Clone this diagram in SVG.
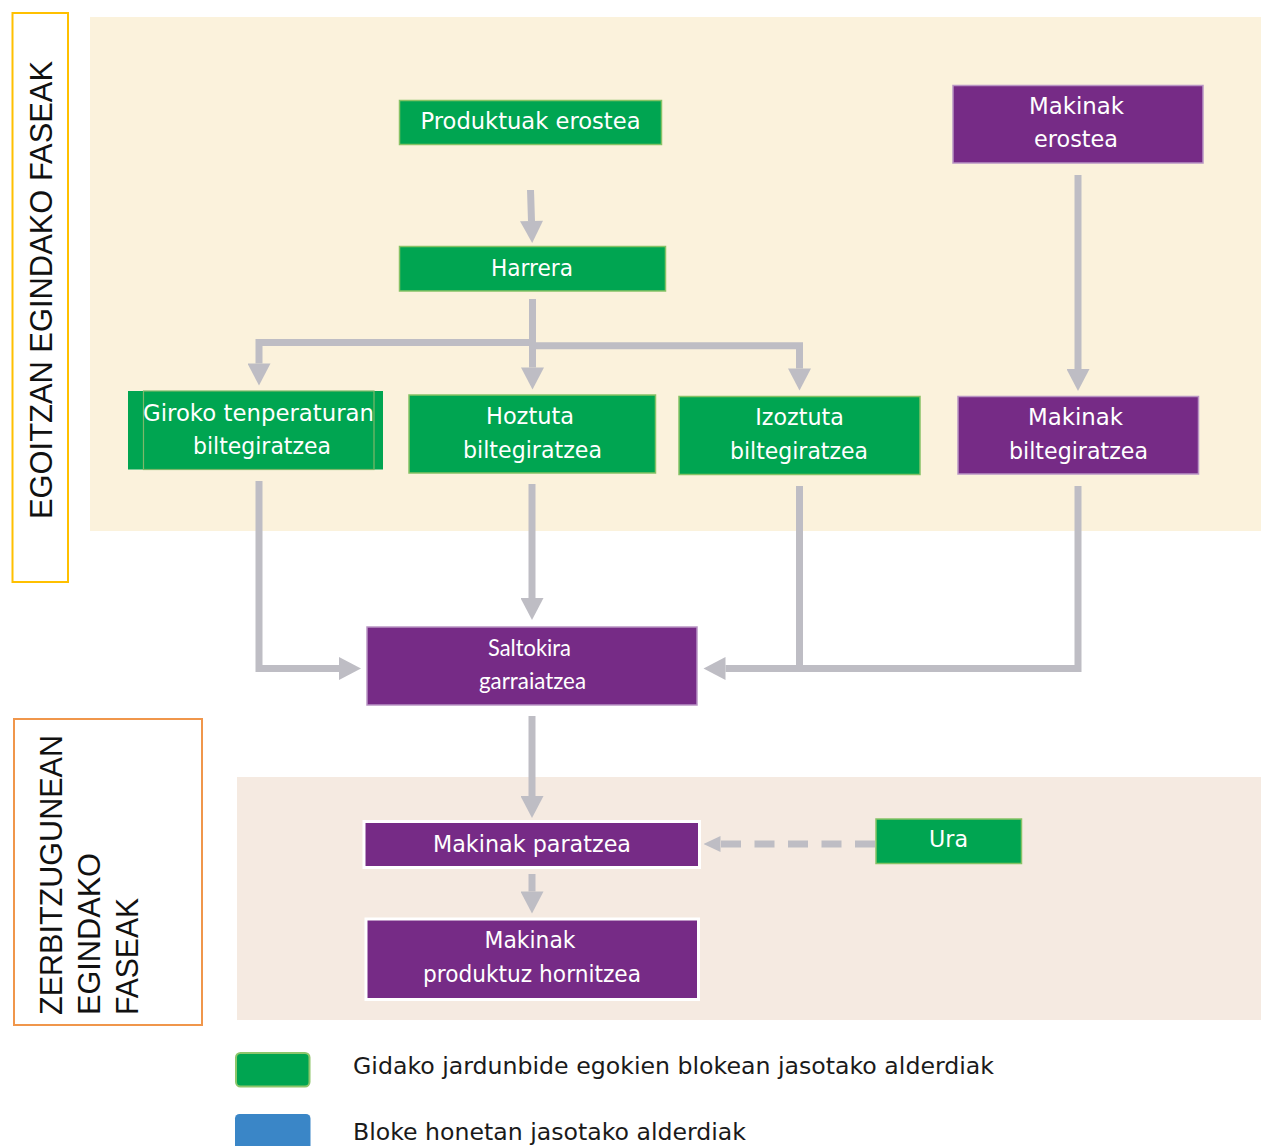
<svg xmlns="http://www.w3.org/2000/svg" width="1261" height="1146" viewBox="0 0 1261 1146">
<style>
.t{font-family:"DejaVu Sans",Verdana,sans-serif;font-size:22.5px;fill:#fff;text-anchor:middle}
.c{font-family:Lato,"Open Sans",sans-serif;font-size:24px;fill:#fff;text-anchor:middle}
.lab{font-family:"Liberation Sans",Arial,sans-serif;fill:#111}
.leg{font-family:"DejaVu Sans",Verdana,sans-serif;font-size:23.4px;fill:#1a1a1a}
.g{fill:#00A551;stroke:#86C266;stroke-width:1.5}
.p{fill:#762B86;stroke:#B995C4;stroke-width:1.5}
.pw{fill:#762B86;stroke:#fff;stroke-width:3}
.ln{fill:none;stroke:#BEBDC4;stroke-width:7;stroke-linejoin:miter}
</style>
<defs>
<marker id="ah" markerUnits="userSpaceOnUse" markerWidth="23" markerHeight="23" viewBox="0 0 22 23" refX="0" refY="11.5" orient="auto"><path d="M0,0 L22,11.5 L0,23 z" fill="#BEBDC4"/></marker>
<marker id="ahs" markerUnits="userSpaceOnUse" markerWidth="17" markerHeight="16" viewBox="0 0 17 16" refX="0" refY="8" orient="auto"><path d="M0,0 L17,8 L0,16 z" fill="#BEBDC4"/></marker>
</defs>
<rect width="1261" height="1146" fill="#fff"/>
<rect x="90" y="17" width="1171" height="514" fill="#FBF2DC"/>
<rect x="237" y="777" width="1024" height="243" fill="#F5EAE1"/>

<g id="label-egoitza">
<rect x="12.5" y="13" width="55.5" height="569" fill="none" stroke="#FFC000" stroke-width="2"/>
<text class="lab" font-size="32" transform="translate(52,519) rotate(-90)" textLength="458" lengthAdjust="spacingAndGlyphs">EGOITZAN EGINDAKO FASEAK</text>
</g>
<g id="label-zerbitzugune">
<rect x="14" y="719" width="188" height="306" fill="none" stroke="#F0964B" stroke-width="2"/>
<text class="lab" font-size="31" transform="translate(61.5,1015) rotate(-90)" textLength="280" lengthAdjust="spacingAndGlyphs">ZERBITZUGUNEAN</text>
<text class="lab" font-size="31" transform="translate(100,1015) rotate(-90)" textLength="162" lengthAdjust="spacingAndGlyphs">EGINDAKO</text>
<text class="lab" font-size="31" transform="translate(138.3,1015) rotate(-90)" textLength="117" lengthAdjust="spacingAndGlyphs">FASEAK</text>
</g>

<g id="connectors">
<path class="ln" d="M530.5 190 L531.5 221" marker-end="url(#ah)"/>
<path class="ln" d="M532.5 299 V367.5" marker-end="url(#ah)"/>
<path class="ln" d="M532.5 342.5 H259 V363.5" marker-end="url(#ah)"/>
<path class="ln" d="M532.5 345.7 H799.5 V368.5" marker-end="url(#ah)"/>
<path class="ln" d="M1078 175 V369" marker-end="url(#ah)"/>
<path class="ln" d="M259 481 V668.5 H339" marker-end="url(#ah)"/>
<path class="ln" d="M532 484 V598" marker-end="url(#ah)"/>
<path class="ln" d="M1078 486 V668.5 H799.5"/>
<path class="ln" d="M799.5 486 V668.5 H725.5" marker-end="url(#ah)"/>
<path class="ln" d="M532 716 V796" marker-end="url(#ah)"/>
<path class="ln" d="M532 874 V891.5" marker-end="url(#ah)"/>
<path class="ln" d="M875 844 H720.5" stroke-width="5" stroke-dasharray="20 13.5" marker-end="url(#ahs)"/>
</g>

<g id="n-produktuak">
<rect class="g" x="399.5" y="100.5" width="262" height="44"/>
<text class="t" x="530.5" y="129" textLength="220" lengthAdjust="spacingAndGlyphs">Produktuak erostea</text>
</g>
<g id="n-harrera">
<rect class="g" x="399.5" y="246.5" width="266" height="44.5"/>
<text class="t" x="532" y="276" textLength="82" lengthAdjust="spacingAndGlyphs">Harrera</text>
</g>
<g id="n-giroko">
<rect x="128" y="391" width="255" height="78.5" fill="#00A551"/>
<rect x="143.5" y="391" width="230.5" height="78.5" fill="none" stroke="#7DB86A" stroke-width="1.2"/>
<text class="t" x="258.5" y="420.5" textLength="231" lengthAdjust="spacingAndGlyphs">Giroko tenperaturan</text>
<text class="t" x="262" y="453.5" textLength="138" lengthAdjust="spacingAndGlyphs">biltegiratzea</text>
</g>
<g id="n-hoztuta">
<rect class="g" x="409" y="395" width="246.5" height="78"/>
<text class="t" x="530" y="424" textLength="88" lengthAdjust="spacingAndGlyphs">Hoztuta</text>
<text class="t" x="532.5" y="458" textLength="139" lengthAdjust="spacingAndGlyphs">biltegiratzea</text>
</g>
<g id="n-izoztuta">
<rect class="g" x="679" y="396.5" width="241" height="78"/>
<text class="t" x="799.5" y="425" textLength="88.5" lengthAdjust="spacingAndGlyphs">Izoztuta</text>
<text class="t" x="799" y="459" textLength="138" lengthAdjust="spacingAndGlyphs">biltegiratzea</text>
</g>
<g id="n-makinak-bilt">
<rect class="p" x="958" y="396.5" width="240.5" height="77.5"/>
<text class="t" x="1075.5" y="425" textLength="95" lengthAdjust="spacingAndGlyphs">Makinak</text>
<text class="t" x="1078.5" y="459" textLength="139" lengthAdjust="spacingAndGlyphs">biltegiratzea</text>
</g>
<g id="n-makinak-erostea">
<rect class="p" x="953" y="85.5" width="250" height="77.5"/>
<text class="t" x="1076.5" y="114" textLength="95" lengthAdjust="spacingAndGlyphs">Makinak</text>
<text class="t" x="1076" y="146.5" textLength="84" lengthAdjust="spacingAndGlyphs">erostea</text>
</g>
<g id="n-saltokira">
<rect class="p" x="367" y="627" width="330" height="78"/>
<text class="c" x="529.5" y="655.5" textLength="83" lengthAdjust="spacingAndGlyphs">Saltokira</text>
<text class="c" x="532.5" y="689" textLength="107" lengthAdjust="spacingAndGlyphs">garraiatzea</text>
</g>
<g id="n-paratzea">
<rect class="pw" x="364" y="821.5" width="335.5" height="46"/>
<text class="t" x="532" y="852" textLength="198" lengthAdjust="spacingAndGlyphs">Makinak paratzea</text>
</g>
<g id="n-ura">
<rect class="g" x="876" y="819" width="145.5" height="44.5"/>
<text class="t" x="948.5" y="847" textLength="39" lengthAdjust="spacingAndGlyphs">Ura</text>
</g>
<g id="n-hornitzea">
<rect class="pw" x="366" y="919" width="332.5" height="80.5"/>
<text class="t" x="530" y="948" textLength="91" lengthAdjust="spacingAndGlyphs">Makinak</text>
<text class="t" x="532" y="981.5" textLength="218" lengthAdjust="spacingAndGlyphs">produktuz hornitzea</text>
</g>

<g id="legend">
<rect x="236" y="1053" width="73.5" height="33.5" rx="4.5" fill="#00A551" stroke="#8DC66B" stroke-width="2"/>
<text class="leg" x="353" y="1074" textLength="641" lengthAdjust="spacingAndGlyphs">Gidako jardunbide egokien blokean jasotako alderdiak</text>
<rect x="235" y="1114" width="75.5" height="40" rx="4.5" fill="#3A86C7"/>
<text class="leg" x="353" y="1140" textLength="393" lengthAdjust="spacingAndGlyphs">Bloke honetan jasotako alderdiak</text>
</g>
</svg>
